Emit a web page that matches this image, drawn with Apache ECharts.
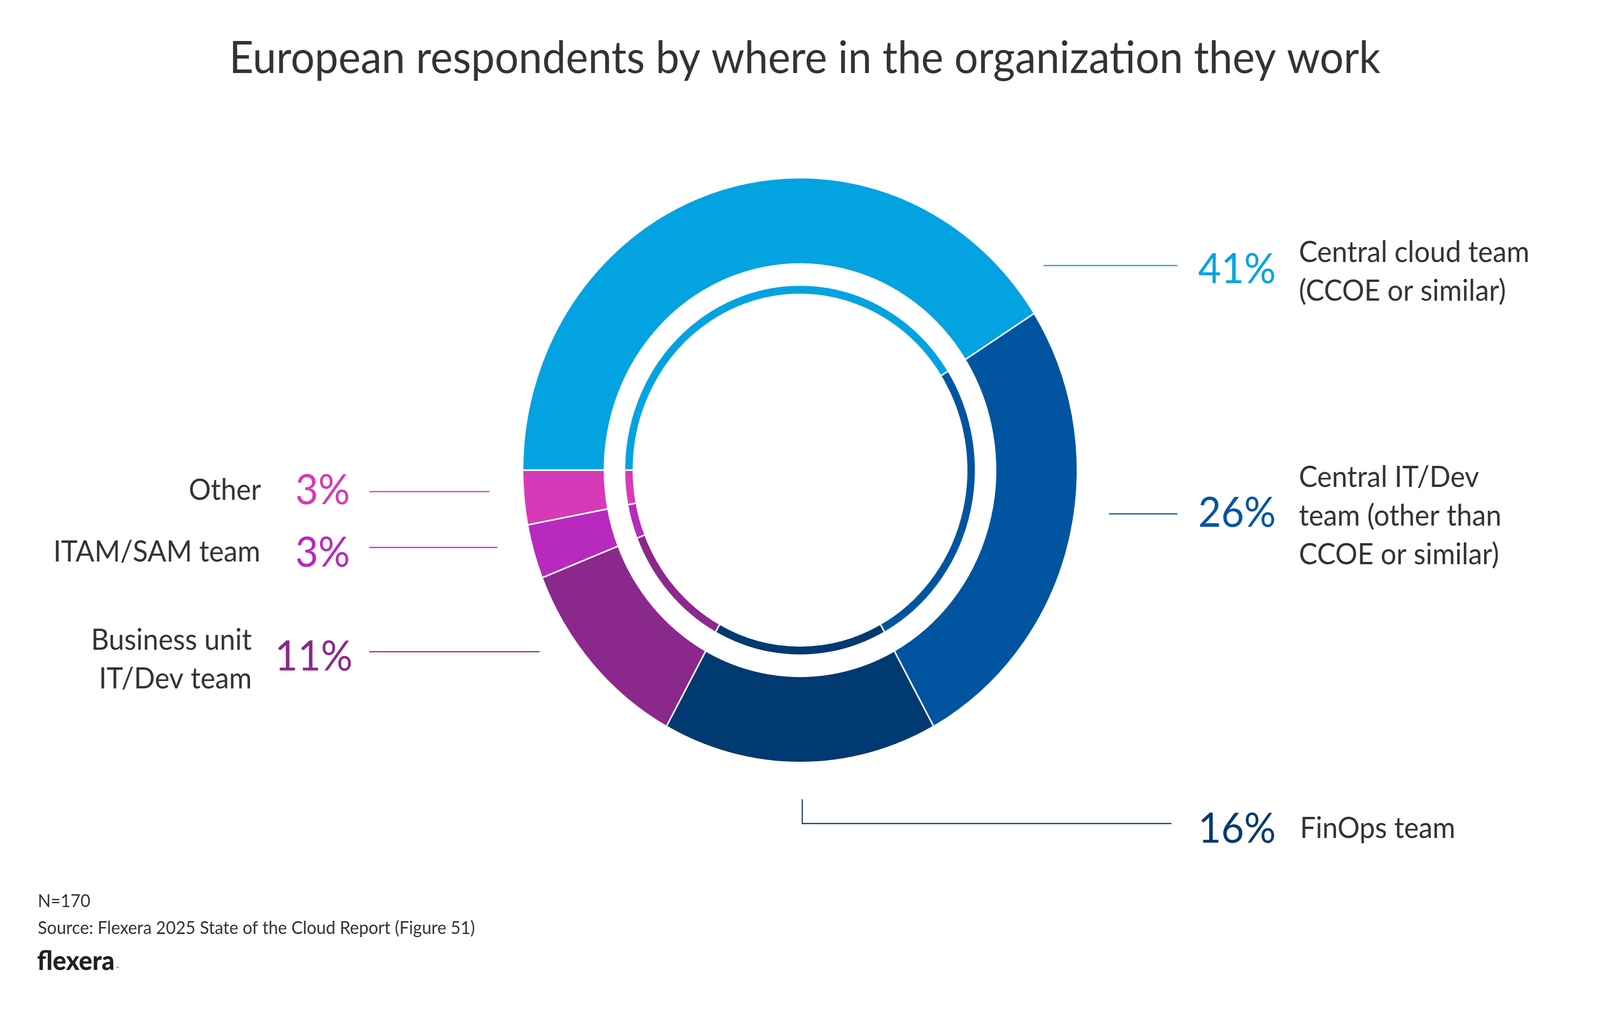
<!DOCTYPE html>
<html><head><meta charset="utf-8">
<script src="https://cdn.jsdelivr.net/npm/echarts@6/dist/echarts.min.js"></script>
<style>html,body{margin:0;padding:0;background:#fff;overflow:hidden;}#chart{width:4320px;height:2584px;transform-origin:0 0;}</style>
</head><body><div id="chart"></div>
<script>
// ---- data ----
const categories = ['Central cloud team\n(CCOE or similar)', 'Central IT/Dev\nteam (other than\nCCOE or similar)', 'FinOps team', 'Business unit\nIT/Dev team', 'ITAM/SAM team', 'Other'];
const values = [41, 26, 16, 11, 3, 3];
const colors = ['#02A3E0', '#0054A0', '#013A70', '#8B288C', '#B829BE', '#D63AB6'];
const titleText = 'European respondents by where in the organization they work';
const noteText = 'N=170';
const sourceText = 'Source: Flexera 2025 State of the Cloud Report (Figure 51)';
const logoText = 'flexera';

// ---- label layout (positions only) ----
const pctLayout = [
  {x: 3235, y: 690, align: 'left', line: [[2817, 680], [3179, 680]]},
  {x: 3235, y: 1314, align: 'left', line: [[2994, 1316], [3179, 1316]]},
  {x: 3235, y: 2123, align: 'left', line: [[2166, 2047], [2166, 2109], [3163, 2109]]},
  {x: 952, y: 1682, align: 'right', line: [[1457, 1669], [997, 1669]]},
  {x: 945, y: 1416, align: 'right', line: [[1343, 1402], [997, 1402]]},
  {x: 945, y: 1256, align: 'right', line: [[1321, 1259], [997, 1259]]}
];
const nameLayout = [
  {x: 3507, y: 696, align: 'left'},
  {x: 3507, y: 1322, align: 'left'},
  {x: 3510, y: 2122, align: 'left'},
  {x: 680, y: 1689, align: 'right'},
  {x: 703, y: 1414, align: 'right'},
  {x: 705, y: 1256, align: 'right'}
];

// fit the fixed 4320x2584 drawing to whatever viewport the page gets
const box = document.getElementById('chart');
function fit() {
  const sx = window.innerWidth / 4320, sy = window.innerHeight / 2584;
  box.style.transform = 'scale(' + sx + ',' + sy + ')';
}
fit();
window.addEventListener('resize', fit);

const FONT = 'Lato, "Noto Sans", sans-serif';
const chart = echarts.init(box, null, {renderer: 'canvas', width: 4320, height: 2584});

const outerData = categories.map((n, i) => ({name: n, value: values[i], itemStyle: {color: colors[i]}, label: {color: colors[i]}}));
const innerData = categories.map((n, i) => ({name: n, value: values[i], itemStyle: {color: colors[i]}}));
const txt = (x, y, text, size, opts) => ({
  type: 'text', x: x, y: y, silent: true,
  style: Object.assign({text: text, fontFamily: FONT, fontSize: size, fill: '#333333', textAlign: 'left', textVerticalAlign: 'middle', align: 'left', verticalAlign: 'middle'}, opts || {})
});

chart.setOption({
  animation: false,
  backgroundColor: '#ffffff',
  graphic: [
    txt(2173, 150, titleText, 114, {textAlign: 'center', align: 'center'}),
    txt(102, 2308, noteText, 46),
    txt(102, 2377, sourceText, 46),
    txt(100, 2462, logoText, 68, {fontWeight: 900, fill: '#231F20'}),
    txt(314, 2480, '™', 10, {fill: '#231F20'})
  ],
  series: [
    {
      type: 'pie', name: 'outer', center: [2160, 1204], radius: [528, 749],
      startAngle: 180, clockwise: true, avoidLabelOverlap: false, silent: true,
      itemStyle: {borderColor: '#ffffff', borderWidth: 4},
      label: {show: true, position: 'outside', formatter: p => p.value + '%', fontFamily: FONT, fontSize: 107, lineHeight: 107},
      labelLine: {show: true, length: 10, length2: 10, lineStyle: {width: 3}},
      labelLayout: p => {
        const L = pctLayout[p.dataIndex];
        return {x: L.x, y: L.y, align: L.align, verticalAlign: 'middle', labelLinePoints: L.line};
      },
      data: outerData
    },
    {
      type: 'pie', name: 'inner', center: [2160, 1204], radius: [450, 474],
      startAngle: 180, clockwise: true, avoidLabelOverlap: false, silent: true,
      itemStyle: {borderColor: '#ffffff', borderWidth: 4},
      label: {show: true, position: 'outside', color: '#333333', fontFamily: FONT, fontSize: 75, lineHeight: 99},
      labelLine: {show: false},
      labelLayout: p => {
        const L = nameLayout[p.dataIndex];
        return {x: L.x, y: L.y, align: L.align, verticalAlign: 'middle'};
      },
      data: innerData
    }
  ]
});
</script></body></html>
